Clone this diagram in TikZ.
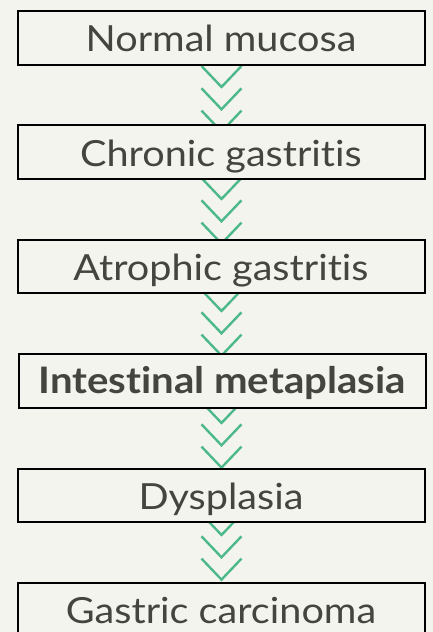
\documentclass[tikz,border=0pt]{standalone}
\usepackage{fontspec}
\setmainfont{Lato}[Ligatures={NoCommon},FakeStretch=1.1]
\usetikzlibrary{backgrounds}
\definecolor{bg}{HTML}{F4F4EF}
\definecolor{txt}{HTML}{45453F}
\definecolor{chev}{HTML}{4DB88A}
\tikzset{
  stage/.style={draw=black, line width=2pt, fill=bg, minimum width=407pt, minimum height=53.5pt,
    inner sep=0pt, text=txt, font=\fontsize{36}{40}\selectfont, text height=26pt, text depth=0pt},
  chevline/.style={draw=chev, line width=2.4pt, line cap=butt, line join=miter}
}
\newcommand{\chevat}[1]{\draw[chevline] ([shift={(-20,-21)}]#1) -- (#1) -- ([shift={(20,-21)}]#1);}
\begin{document}
\begin{tikzpicture}[x=1pt,y=-1pt]
\useasboundingbox (0,0) rectangle (433,632);
\node[stage] (b1) at (221,37.75) {\raisebox{-1pt}{Normal mucosa}};
\node[stage] (b2) at (221,152.15) {\raisebox{-1pt}{Chronic gastritis}};
\node[stage] (b3) at (221,266.55) {\raisebox{-1pt}{Atrophic gastritis}};
\node[stage, font=\fontsize{36.5}{40}\selectfont\bfseries] (b4) at (222,380.95) {Intestinal metaplasia};
\node[stage] (b5) at (221,495.35) {\raisebox{-1pt}{Dysplasia}};
\node[stage] (b6) at (221,609.75) {\raisebox{-1pt}{Gastric carcinoma}};
\begin{pgfonlayer}{background}
\fill[bg] (0,0) rectangle (433,632);
\foreach \k in {0,...,4}{
  \foreach \j in {0,1,2}{
    \coordinate (t\k\j) at (221.5, 87+112*\k+22.3*\j);
    \chevat{t\k\j}
  }
}
\end{pgfonlayer}
\end{tikzpicture}
\end{document}
